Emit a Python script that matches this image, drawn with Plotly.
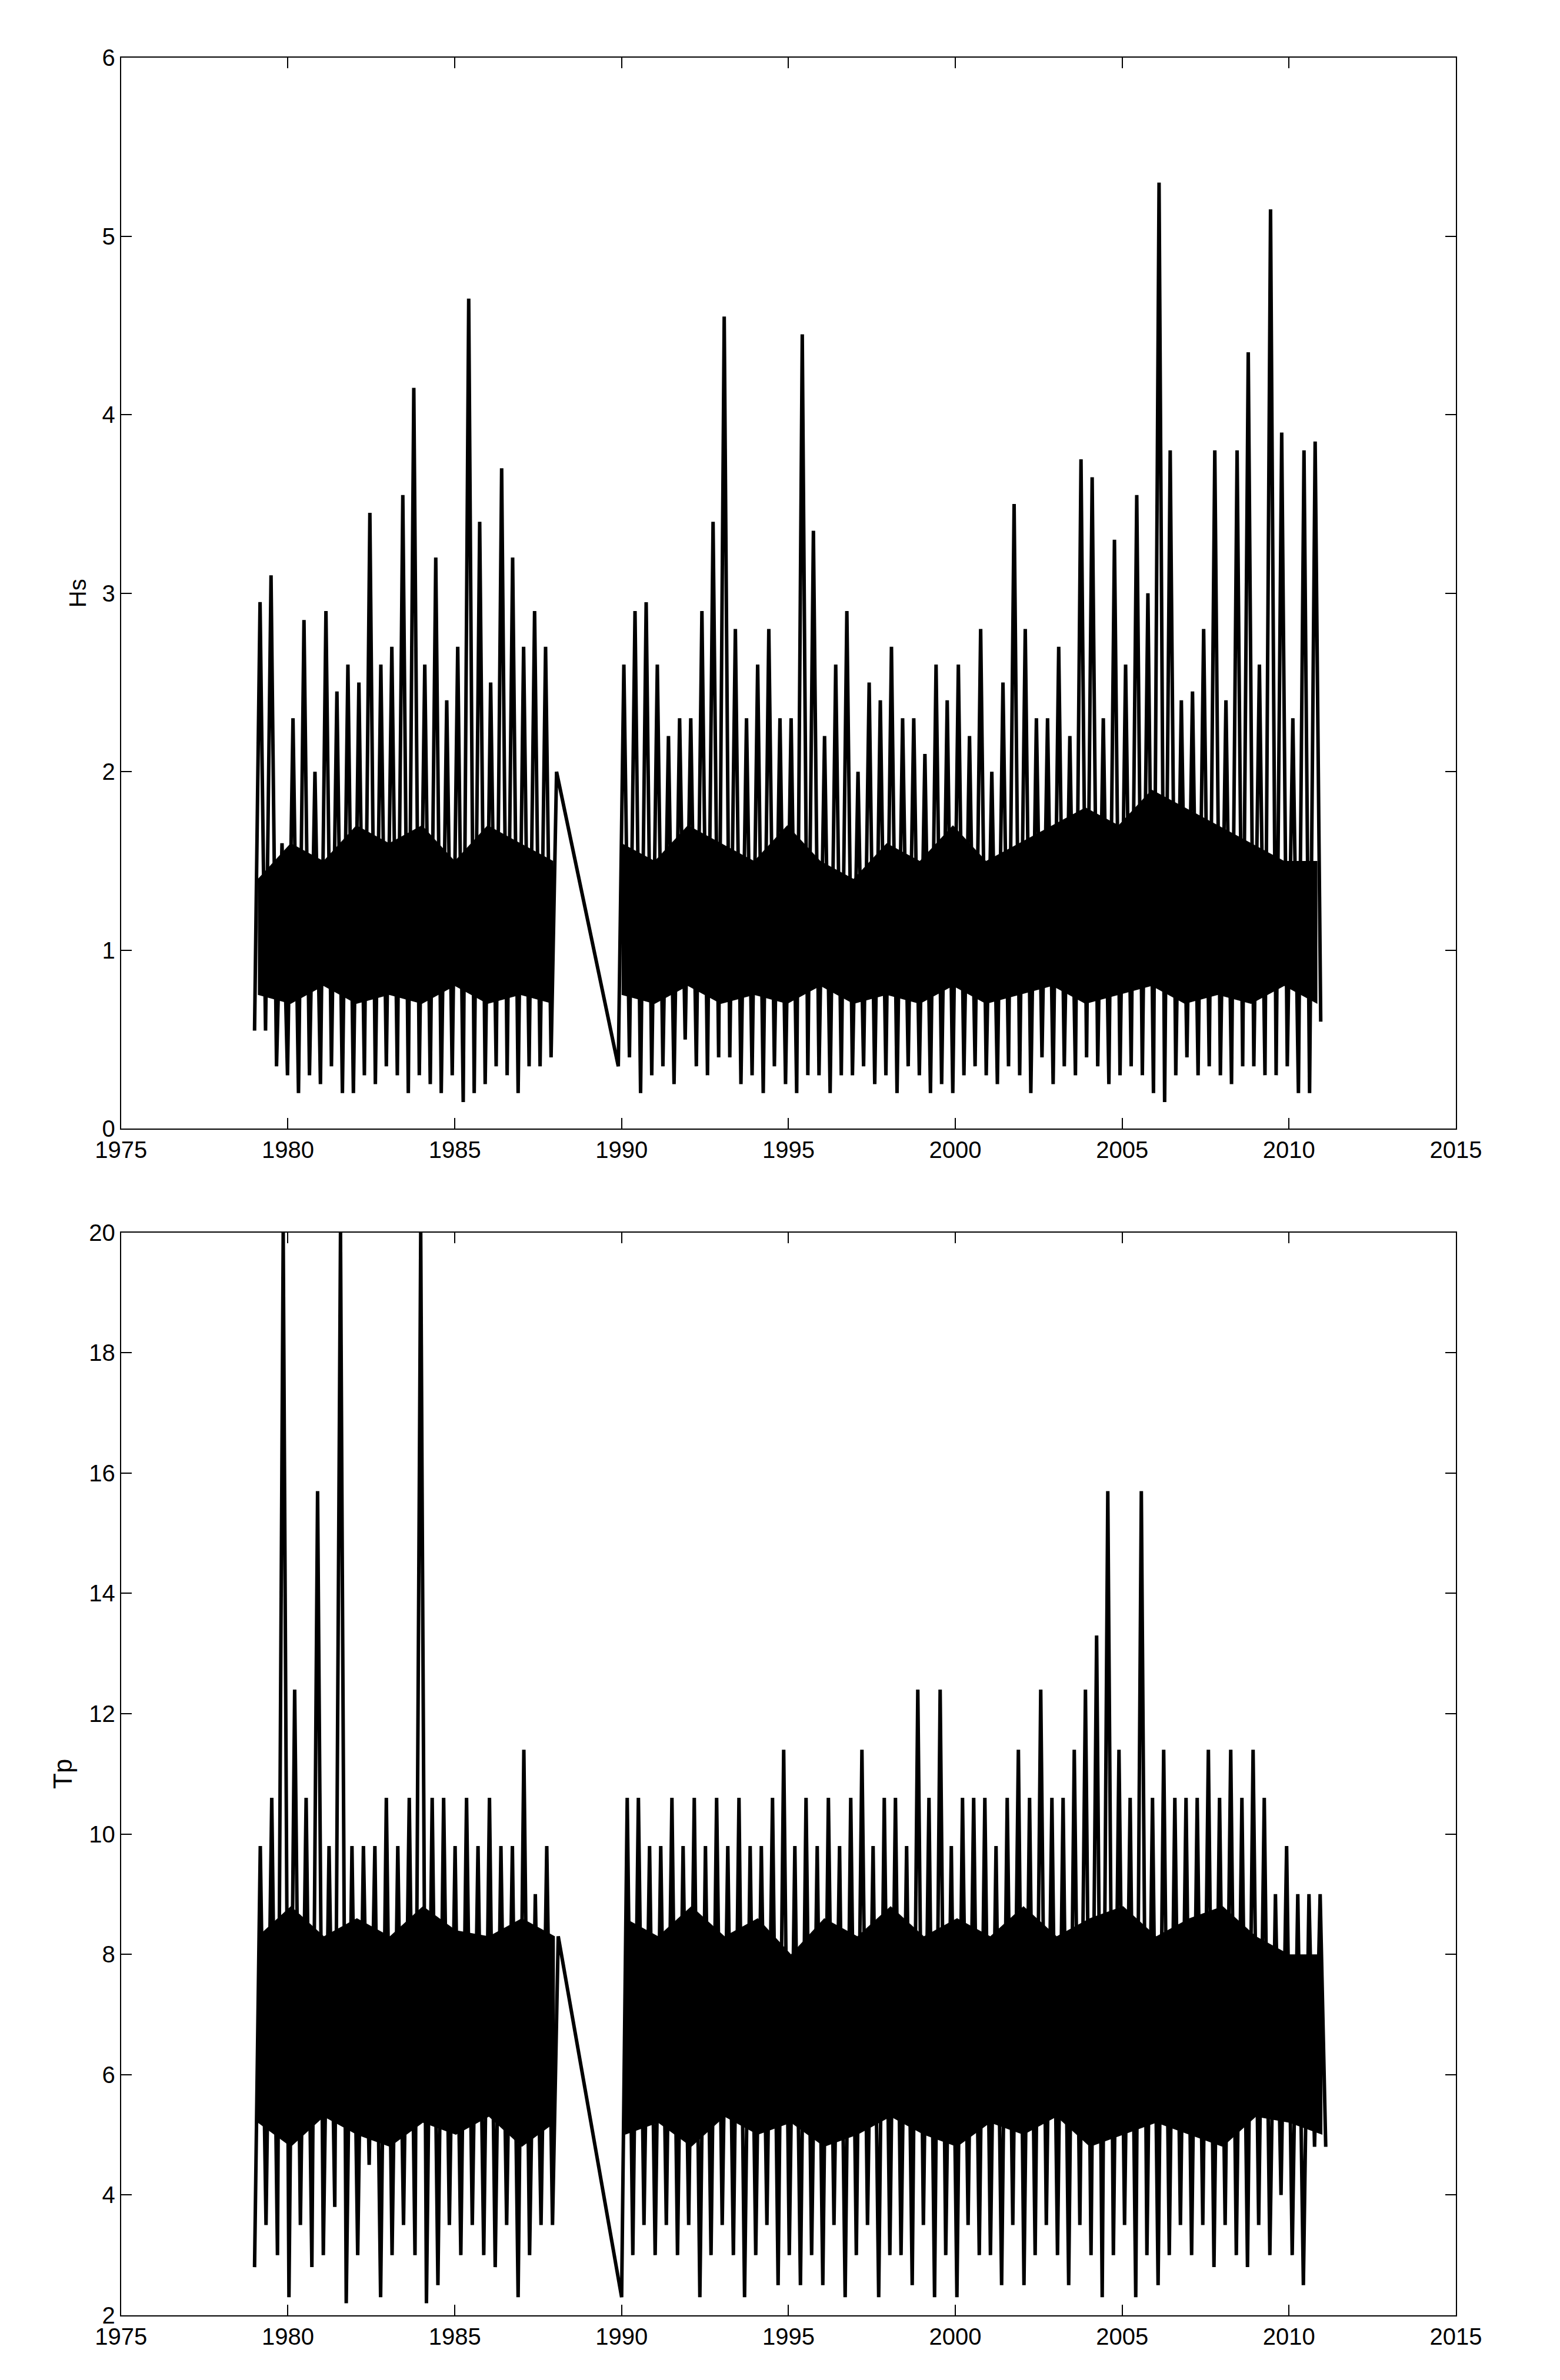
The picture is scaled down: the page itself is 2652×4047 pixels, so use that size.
import numpy as np
import plotly.graph_objects as go
from plotly.subplots import make_subplots

# Hs, alternating peaks and troughs (about 6 per year)
hs_seg1_start, hs_seg1_end = 1979.0, 1988.05
hs_seg1 = [0.55, 2.95, 0.55, 3.1, 0.35, 1.6, 0.3,
           2.3, 0.2, 2.85, 0.3, 2.0, 0.25,
           2.9, 0.35, 2.45, 0.2, 2.6, 0.2,
           2.5, 0.3, 3.45, 0.25, 2.6, 0.35,
           2.7, 0.3, 3.55, 0.2, 4.15, 0.3,
           2.6, 0.25, 3.2, 0.2, 2.4, 0.3,
           2.7, 0.15, 4.65, 0.2, 3.4, 0.25,
           2.5, 0.35, 3.7, 0.3, 3.2, 0.2,
           2.7, 0.35, 2.9, 0.35, 2.7, 0.4, 2.0]
hs_seg2_start, hs_seg2_end = 1989.9, 2010.95
hs_seg2 = [0.35, 2.6, 0.4, 2.9, 0.2, 2.95,
           0.3, 2.6, 0.35, 2.2, 0.25, 2.3,
           0.5, 2.3, 0.35, 2.9, 0.3, 3.4,
           0.4, 4.55, 0.4, 2.8, 0.25, 2.3,
           0.3, 2.6, 0.2, 2.8, 0.35, 2.3,
           0.25, 2.3, 0.2, 4.45, 0.3, 3.35,
           0.3, 2.2, 0.2, 2.6, 0.3, 2.9,
           0.3, 2.0, 0.35, 2.5, 0.25, 2.4,
           0.3, 2.7, 0.2, 2.3, 0.35, 2.3,
           0.3, 2.1, 0.2, 2.6, 0.25, 2.4,
           0.2, 2.6, 0.3, 2.2, 0.35, 2.8,
           0.3, 2.0, 0.25, 2.5, 0.35, 3.5,
           0.3, 2.8, 0.2, 2.3, 0.4, 2.3,
           0.25, 2.7, 0.35, 2.2, 0.3, 3.75,
           0.4, 3.65, 0.35, 2.3, 0.25, 3.3,
           0.3, 2.6, 0.35, 3.55, 0.3, 3.0,
           0.2, 5.3, 0.15, 3.8, 0.3, 2.4,
           0.4, 2.45, 0.3, 2.8, 0.35, 3.8,
           0.3, 2.4, 0.25, 3.8, 0.35, 4.35,
           0.35, 2.6, 0.3, 5.15, 0.3, 3.9,
           0.35, 2.3, 0.2, 3.8, 0.2, 3.85, 0.6]
# dense core of Hs per year (lower, upper)
hs_core1_lo = [0.75, 0.7, 0.8, 0.7, 0.75, 0.7, 0.8, 0.7, 0.75, 0.7]
hs_core1_hi = [1.4, 1.6, 1.5, 1.7, 1.6, 1.7, 1.5, 1.7, 1.6, 1.5]
hs_core2_lo = [0.75, 0.7, 0.8, 0.7, 0.75, 0.7, 0.8, 0.7, 0.75, 0.7, 0.8,
               0.7, 0.75, 0.8, 0.7, 0.75, 0.8, 0.7, 0.75, 0.7, 0.8, 0.7]
hs_core2_hi = [1.6, 1.5, 1.7, 1.6, 1.5, 1.7, 1.5, 1.4, 1.6, 1.5, 1.7,
               1.5, 1.6, 1.7, 1.8, 1.7, 1.9, 1.8, 1.7, 1.6, 1.5, 1.5]

# Tp
tp_seg1_start, tp_seg1_end = 1979.0, 1988.1
tp_seg1 = [2.8, 9.8, 3.5, 10.6, 3.0, 20, 2.3, 12.4, 3.5, 10.6, 2.8, 15.7,
           3.0, 9.8, 3.8, 20, 2.2, 9.8, 3.0, 9.8, 4.5, 9.8, 2.3, 10.6,
           3.0, 9.8, 3.5, 10.6, 3.0, 20, 2.2, 10.6, 2.5, 10.6, 3.5, 9.8,
           3.0, 10.6, 3.5, 9.8, 3.0, 10.6, 2.8, 9.8, 3.5, 9.8, 2.3, 11.4,
           3.0, 9.0, 3.5, 9.8, 3.5, 8.3]
tp_seg2_start, tp_seg2_end = 1990.0, 2011.1
tp_seg2 = [2.3, 10.6, 3.0, 10.6, 3.5, 9.8,
           3.0, 9.8, 3.5, 10.6, 3.0, 9.8,
           3.5, 10.6, 2.3, 9.8, 3.0, 10.6,
           3.5, 9.8, 3.0, 10.6, 2.3, 9.8,
           3.0, 9.8, 3.5, 10.6, 2.5, 11.4,
           3.0, 9.8, 2.5, 10.6, 3.0, 9.8,
           2.5, 10.6, 3.5, 9.8, 2.3, 10.6,
           3.0, 11.4, 3.5, 9.8, 2.3, 10.6,
           3.0, 10.6, 3.0, 9.8, 2.5, 12.4,
           3.5, 10.6, 2.3, 12.4, 3.0, 9.8,
           2.3, 10.6, 3.5, 10.6, 3.0, 10.6,
           3.0, 9.8, 2.5, 10.6, 3.5, 11.4,
           2.5, 10.6, 3.0, 12.4, 3.5, 10.6,
           3.0, 10.6, 2.5, 11.4, 3.5, 12.4,
           3.0, 13.3, 2.3, 15.7, 3.0, 11.4,
           3.5, 10.6, 2.3, 15.7, 3.0, 10.6,
           2.5, 11.4, 3.0, 10.6, 3.5, 10.6,
           3.0, 10.6, 3.5, 11.4, 2.8, 10.6,
           3.5, 11.4, 3.0, 10.6, 2.8, 11.4,
           3.5, 10.6, 3.0, 9.0, 4.0, 9.8,
           3.0, 9.0, 2.5, 9.0, 4.8, 9.0, 4.8]
tp_core1_lo = [5.2, 4.8, 5.3, 5.0, 4.8, 5.2, 5.0, 5.3, 4.8, 5.2]
tp_core1_hi = [8.3, 8.8, 8.3, 8.6, 8.3, 8.8, 8.4, 8.3, 8.6, 8.3]
tp_core2_lo = [5.0, 5.2, 4.8, 5.3, 5.0, 5.2, 4.8, 5.0, 5.3, 5.0, 4.8,
               5.2, 5.0, 5.3, 4.8, 5.0, 5.2, 5.0, 4.8, 5.3, 5.2, 5.0]
tp_core2_hi = [8.6, 8.3, 8.8, 8.3, 8.6, 8.0, 8.6, 8.3, 8.8, 8.3, 8.6,
               8.3, 8.8, 8.3, 8.6, 8.8, 8.3, 8.6, 8.8, 8.3, 8.0, 8.0]

fig = make_subplots(rows=2, cols=1)


def add_series(row, s1, e1, v1, s2, e2, v2, c1lo, c1hi, c2lo, c2hi):
    for s, e, lo, hi in [(s1, e1, c1lo, c1hi), (s2, e2, c2lo, c2hi)]:
        yrs = np.linspace(s + 0.1, e - 0.1, len(lo))
        fig.add_trace(go.Scatter(x=np.concatenate([yrs, yrs[::-1]]),
                                 y=np.concatenate([hi, lo[::-1]]),
                                 fill="toself", fillcolor="black",
                                 line=dict(width=0), mode="lines",
                                 hoverinfo="skip", showlegend=False),
                      row=row, col=1)
    x = np.concatenate([np.linspace(s1, e1, len(v1)), np.linspace(s2, e2, len(v2))])
    y = np.concatenate([v1, v2])
    fig.add_trace(go.Scatter(x=x, y=y, mode="lines",
                             line=dict(color="black", width=6),
                             showlegend=False), row=row, col=1)


add_series(1, hs_seg1_start, hs_seg1_end, hs_seg1, hs_seg2_start, hs_seg2_end,
           hs_seg2, hs_core1_lo, hs_core1_hi, hs_core2_lo, hs_core2_hi)
add_series(2, tp_seg1_start, tp_seg1_end, tp_seg1, tp_seg2_start, tp_seg2_end,
           tp_seg2, tp_core1_lo, tp_core1_hi, tp_core2_lo, tp_core2_hi)

axis_style = dict(showline=True, linecolor="black", linewidth=2, mirror="ticks",
                  ticks="inside", ticklen=18, tickwidth=2, tickcolor="black",
                  showgrid=False, zeroline=False,
                  tickfont=dict(family="Liberation Sans", size=40, color="black"))
fig.update_xaxes(range=[1975, 2015], dtick=5, **axis_style)
fig.update_xaxes(domain=[0.060, 0.945], row=1, col=1)
fig.update_xaxes(domain=[0.060, 0.945], row=2, col=1)
fig.update_yaxes(**axis_style)
fig.update_yaxes(range=[0, 6], dtick=1, domain=[0.528, 0.983],
                 title=dict(text="Hs", font=dict(family="Liberation Sans", size=40,
                                                 color="black")),
                 row=1, col=1)
fig.update_yaxes(range=[2, 20], dtick=2, domain=[0.024, 0.484],
                 title=dict(text="Tp", font=dict(family="Liberation Sans", size=44,
                                                 color="black")),
                 row=2, col=1)

fig.update_layout(width=2652, height=4047, plot_bgcolor="white",
                  paper_bgcolor="white", margin=dict(l=0, r=0, t=0, b=0))
fig.write_html("out.html")
